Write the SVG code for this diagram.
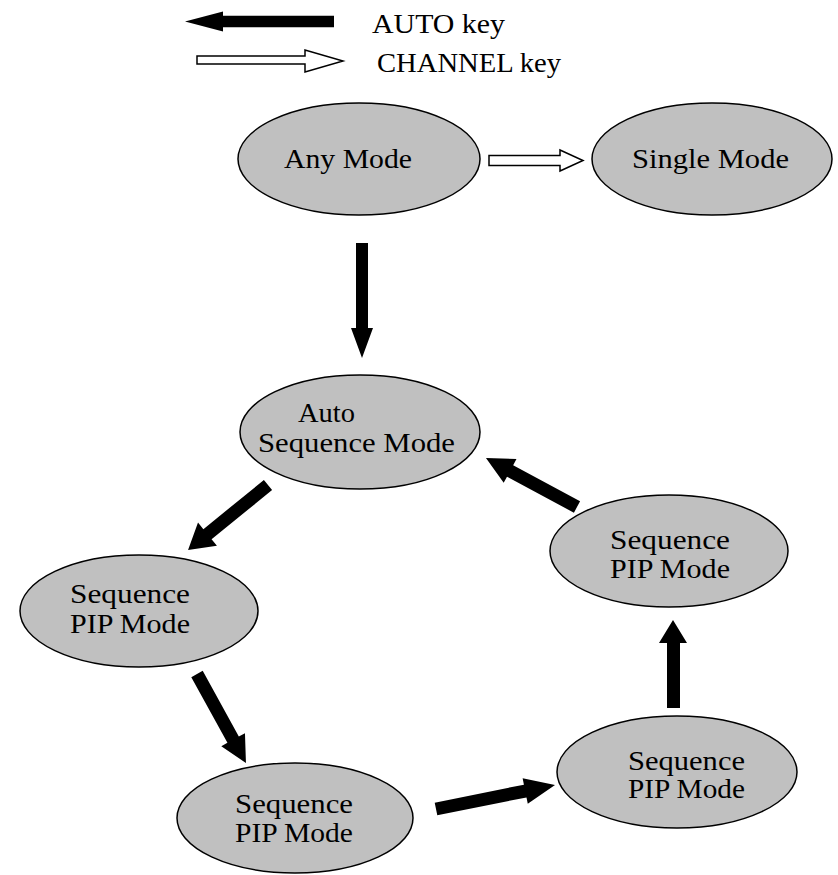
<svg xmlns="http://www.w3.org/2000/svg" width="838" height="875" viewBox="0 0 838 875">
<style>
.node ellipse{fill:#c0c0c0;stroke:#000;stroke-width:1.5}
text{font-family:"Liberation Serif","Times New Roman",serif;font-size:27.5px;fill:#000}
.solid{fill:#000;stroke:none}
.hollow{fill:#fff;stroke:#000;stroke-width:1.5}
</style>
<rect width="838" height="875" fill="#fff"/>
<g id="legend">
  <polygon class="solid" points="334,15.7 223,15.7 223,11.5 185,21.5 223,31.5 223,27.3 334,27.3"/>
  <text x="372" y="33" textLength="133" lengthAdjust="spacingAndGlyphs">AUTO key</text>
  <polygon class="hollow" points="197,56 305,56 305,50 343,61 305,72 305,64 197,64"/>
  <text x="377" y="72" textLength="184" lengthAdjust="spacingAndGlyphs">CHANNEL key</text>
</g>
<g id="connectors">
  <polygon class="hollow" points="489,155.5 560,155.5 560,150 583,160.5 560,171 560,165.5 489,165.5"/>
  <polygon class="solid" points="356,243 368,243 368,328 373,328 362,358 351,328 356,328"/>
  <polygon class="solid" transform="translate(268,485) rotate(140.9)" points="0,-6.5 78,-6.5 78,-15 103,0 78,15 78,6.5 0,6.5"/>
  <polygon class="solid" transform="translate(197,674) rotate(61.2)" points="0,-6.5 75,-6.5 75,-13.5 101.6,0 75,13.5 75,6.5 0,6.5"/>
  <polygon class="solid" transform="translate(436,809) rotate(-11.4)" points="0,-6.5 91,-6.5 91,-13 121.4,0 91,13 91,6.5 0,6.5"/>
  <polygon class="solid" points="667,708 680,708 680,643 687,643 673,620 659,643 667,643"/>
  <polygon class="solid" transform="translate(577,507) rotate(-151.7)" points="0,-6.5 76,-6.5 76,-13.5 103.4,0 76,13.5 76,6.5 0,6.5"/>
</g>
<g id="any-mode" class="node">
  <ellipse cx="359" cy="159" rx="121" ry="56"/>
  <text x="284" y="168" textLength="128" lengthAdjust="spacingAndGlyphs">Any Mode</text>
</g>
<g id="single-mode" class="node">
  <ellipse cx="712" cy="159" rx="120" ry="56"/>
  <text x="632" y="168" textLength="157" lengthAdjust="spacingAndGlyphs">Single Mode</text>
</g>
<g id="auto-sequence-mode" class="node">
  <ellipse cx="360" cy="432" rx="120" ry="57"/>
  <text x="298" y="422" textLength="57" lengthAdjust="spacingAndGlyphs">Auto</text>
  <text x="258" y="452" textLength="197" lengthAdjust="spacingAndGlyphs">Sequence Mode</text>
</g>
<g id="seq-pip-left" class="node">
  <ellipse cx="139" cy="611" rx="119" ry="56"/>
  <text x="70" y="603" textLength="120" lengthAdjust="spacingAndGlyphs">Sequence</text>
  <text x="70" y="633" textLength="120" lengthAdjust="spacingAndGlyphs">PIP Mode</text>
</g>
<g id="seq-pip-bottom-left" class="node">
  <ellipse cx="295" cy="818" rx="118" ry="55"/>
  <text x="235" y="813" textLength="118" lengthAdjust="spacingAndGlyphs">Sequence</text>
  <text x="235" y="842" textLength="118" lengthAdjust="spacingAndGlyphs">PIP Mode</text>
</g>
<g id="seq-pip-bottom-right" class="node">
  <ellipse cx="677" cy="772" rx="120" ry="56"/>
  <text x="628" y="770" textLength="117" lengthAdjust="spacingAndGlyphs">Sequence</text>
  <text x="628" y="798" textLength="117" lengthAdjust="spacingAndGlyphs">PIP Mode</text>
</g>
<g id="seq-pip-right" class="node">
  <ellipse cx="669" cy="551" rx="119" ry="56"/>
  <text x="610" y="549" textLength="120" lengthAdjust="spacingAndGlyphs">Sequence</text>
  <text x="610" y="578" textLength="120" lengthAdjust="spacingAndGlyphs">PIP Mode</text>
</g>
</svg>
